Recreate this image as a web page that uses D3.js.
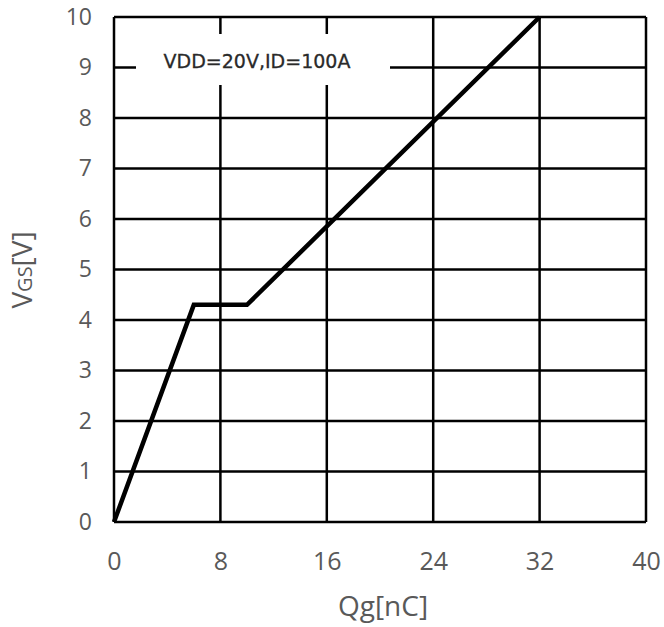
<!DOCTYPE html>
<html><head><meta charset="utf-8">
<script src="https://cdn.jsdelivr.net/npm/d3@7"></script>
<style>body{margin:0;background:#fff}svg{display:block}</style>
</head><body>
<script>
const qg = [0, 6, 10, 32];
const vgs = [0, 4.3, 4.3, 10];
const xTicks = [0, 8, 16, 24, 32, 40];
const yTicks = [0,1,2,3,4,5,6,7,8,9,10];
const note = "VDD=20V,ID=100A";

const W = 664, H = 627;
const m = {l:114, r:18, t:17, b:105};
const svg = d3.select("body").append("svg").attr("width", W).attr("height", H);
const x = d3.scaleLinear().domain([0,40]).range([m.l, W - m.r]);
const y = d3.scaleLinear().domain([0,10]).range([H - m.b, m.t]);
const font = "'Open Sans', sans-serif";
const grey = "#595959";

const g = svg.append("g");
g.selectAll("line.h").data(yTicks).join("line")
  .attr("x1", x(0)).attr("x2", x(40)).attr("y1", d=>y(d)).attr("y2", d=>y(d))
  .attr("stroke", "#000").attr("stroke-width", 2.5);
g.selectAll("line.v").data(xTicks).join("line")
  .attr("y1", y(0)).attr("y2", y(10)).attr("x1", d=>x(d)).attr("x2", d=>x(d))
  .attr("stroke", "#000").attr("stroke-width", 2.5);

// annotation box
svg.append("rect").attr("x", 136).attr("y", 34).attr("width", 254).attr("height", 51).attr("fill", "#fff");
svg.append("text").attr("x", 257).attr("y", 61).attr("text-anchor", "middle").attr("dominant-baseline", "central")
  .attr("font-family", "'DejaVu Sans', sans-serif").attr("font-size", 19).attr("fill", "#2a2a2a")
  .attr("stroke", "#2a2a2a").attr("stroke-width", 0.3).text(note);

// curve
svg.append("path").datum(qg.map((q,i)=>[q, vgs[i]]))
  .attr("d", d3.line().x(d=>x(d[0])).y(d=>y(d[1])))
  .attr("fill", "none").attr("stroke", "#000").attr("stroke-width", 4.5).attr("stroke-linejoin", "miter");

// axes (tick labels only)
const xa = svg.append("g").attr("transform", `translate(0,${y(0)})`)
  .call(d3.axisBottom(x).tickValues(xTicks).tickSize(0).tickPadding(30));
const ya = svg.append("g").attr("transform", `translate(${x(0)},0)`)
  .call(d3.axisLeft(y).tickValues(yTicks).tickSize(0).tickPadding(22));
[xa, ya].forEach(a => {
  a.select(".domain").remove();
  a.selectAll("text").attr("font-family", font).attr("fill", grey);
});
xa.selectAll("text").attr("font-size", 25);
ya.selectAll("text").attr("font-size", 23);

svg.append("text").attr("x", 383).attr("y", 616).attr("text-anchor", "middle")
  .attr("font-family", font).attr("font-size", 28).attr("fill", grey).text("Qg[nC]");

const yl = svg.append("text").attr("transform", `translate(32,${270}) rotate(-90)`)
  .attr("text-anchor", "middle").attr("font-family", font).attr("font-size", 28).attr("fill", grey);
yl.append("tspan").text("V");
yl.append("tspan").attr("font-size", 20).text("GS");
yl.append("tspan").text("[V]");
</script>
</body></html>
